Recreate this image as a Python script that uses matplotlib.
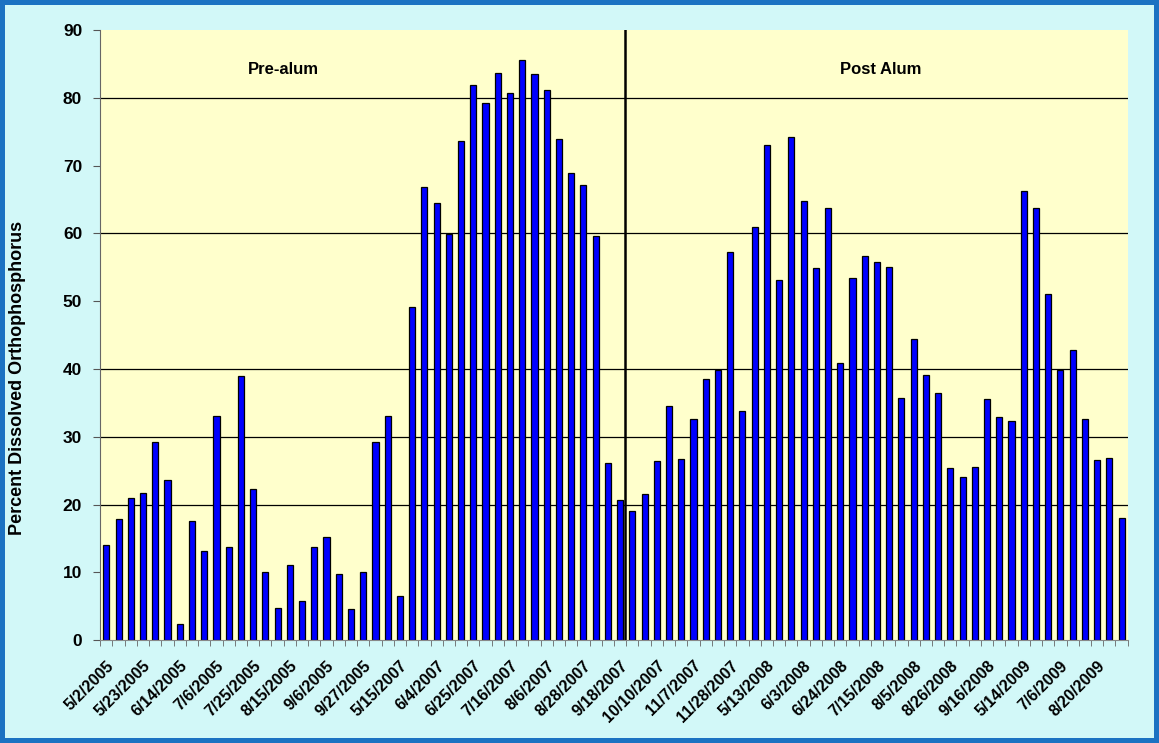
import numpy as np
import matplotlib
matplotlib.use('Agg')
from matplotlib import pyplot as plt

plt.rcParams['font.family'] = ['Liberation Sans', 'DejaVu Sans']

#sample dates, one label for every third bar
tick_labels = ['5/2/2005', '5/23/2005', '6/14/2005', '7/6/2005', '7/25/2005', '8/15/2005',
               '9/6/2005', '9/27/2005', '5/15/2007', '6/4/2007', '6/25/2007', '7/16/2007',
               '8/6/2007', '8/28/2007', '9/18/2007', '10/10/2007', '11/7/2007', '11/28/2007',
               '5/13/2008', '6/3/2008', '6/24/2008', '7/15/2008', '8/5/2008', '8/26/2008',
               '9/16/2008', '5/14/2009', '7/6/2009', '8/20/2009']

#percent dissolved orthophosphorus before alum treatment
pre_alum = [14.1, 17.9, 20.9, 21.7, 29.3, 23.6, 2.4, 17.5, 13.2, 33.0, 13.7, 38.9,
            22.3, 10.1, 4.8, 11.1, 5.8, 13.7, 15.2, 9.7, 4.6, 10.1, 29.3, 33.0,
            6.5, 49.1, 66.9, 64.5, 59.9, 73.6, 81.9, 79.3, 83.7, 80.7, 85.6, 83.5,
            81.2, 74.0, 68.9, 67.1, 59.6, 26.2, 20.7]

#and after
post_alum = [19.1, 21.6, 26.4, 34.5, 26.7, 32.6, 38.5, 39.9, 57.3, 33.8, 61.0, 73.1,
             53.1, 74.2, 64.8, 54.9, 63.7, 40.9, 53.4, 56.6, 55.8, 55.1, 35.7, 44.4,
             39.1, 36.4, 25.4, 24.1, 25.6, 35.5, 32.9, 32.3, 66.2, 63.7, 51.0, 39.9,
             42.8, 32.6, 26.6, 26.9, 18.0]

values = pre_alum + post_alum
x = np.arange(len(values))

fig = plt.figure(figsize=(11.59, 7.43), dpi=100)
fig.patch.set_facecolor('#d2f8f8')
fig.patch.set_edgecolor('#1b72c2')
fig.patch.set_linewidth(6)

ax = fig.add_axes([0.0865, 0.1385, 0.8865, 0.8210])
ax.set_facecolor('#ffffcc')

for g in [20, 30, 40, 60, 80]:
    ax.axhline(g, color='black', linewidth=0.9, zorder=1)

ax.bar(x, values, width=0.5, color='#0000ff', edgecolor='black', linewidth=0.9, zorder=2)

#divider between pre and post alum
ax.axvline(len(pre_alum) - 0.6, color='black', linewidth=1.8, zorder=3)

ax.set_xlim(-0.5, len(values) - 0.5)
ax.set_ylim(0, 90)
ax.set_yticks(range(0, 91, 10))
ax.set_yticklabels([str(v) for v in range(0, 91, 10)], fontsize=12.5, fontweight='bold')

ax.set_xticks(x[::3])
ax.set_xticklabels(tick_labels, rotation=45, ha='right', rotation_mode='anchor',
                   fontsize=11.5, fontweight='bold')
ax.set_xticks(np.arange(len(values) + 1) - 0.5, minor=True)
ax.tick_params(axis='x', which='major', length=0, pad=13)
ax.tick_params(axis='x', which='minor', length=4, color='#666666')
ax.tick_params(axis='y', length=5, color='#555555', pad=8)

for side in ['top', 'right']:
    ax.spines[side].set_visible(False)
ax.spines['left'].set_color('#666666')
ax.spines['bottom'].set_color('#888888')

ax.set_ylabel('Percent Dissolved Orthophosphorus', fontsize=13, fontweight='bold')
ax.yaxis.set_label_coords(-0.072, 0.43)

ax.text(0.178, 0.935, 'Pre-alum', transform=ax.transAxes, ha='center', va='center',
        fontsize=12, fontweight='bold')
ax.text(0.76, 0.935, 'Post Alum', transform=ax.transAxes, ha='center', va='center',
        fontsize=12, fontweight='bold')

fig.savefig('out.png', dpi=100, facecolor=fig.get_facecolor(), edgecolor=fig.get_edgecolor())
